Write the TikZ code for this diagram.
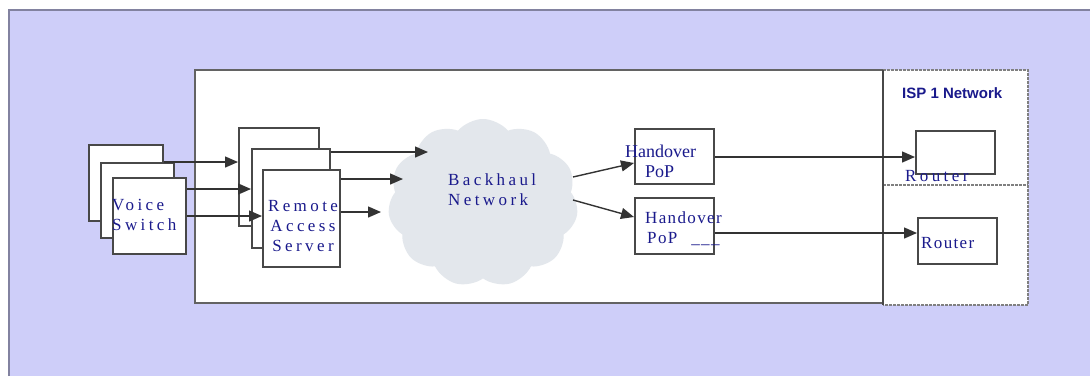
\documentclass[tikz,border=0pt]{standalone}
\usepackage{fontspec}
\setmainfont{Liberation Serif}
\newfontfamily\widefont[LetterSpace=20]{Liberation Serif}
\newfontfamily\halffont[LetterSpace=8]{Liberation Serif}
\newfontfamily\ispfont{Liberation Sans}
\usetikzlibrary{arrows.meta}
\usetikzlibrary{shapes.symbols}

\definecolor{lavender}{RGB}{206,206,249}
\definecolor{edgeblue}{RGB}{130,130,160}
\definecolor{labelblue}{RGB}{26,26,140}
\definecolor{cloudgray}{RGB}{227,231,236}
\definecolor{boxline}{RGB}{72,72,72}

\tikzset{
  unit/.style={draw=boxline,line width=1.6pt,fill=white,inner sep=0pt,anchor=north west},
  lbl/.style={text=labelblue,inner sep=0pt,align=left,anchor=base west},
  wide/.style={lbl,font=\fontsize{17}{20}\widefont},
  half/.style={lbl,font=\fontsize{17}{20}\halffont},
  tight/.style={lbl,font=\fontsize{18}{20}\selectfont},
  link/.style={->,draw=black!80,line width=1.4pt}
}

\begin{document}
\begin{tikzpicture}[x=1pt,y=-1pt,>={Triangle[length=13pt,width=11pt]}]
    \useasboundingbox (0,0) rectangle (1090,376);
    \fill[lavender] (9,10) rectangle (1090,376);
    \draw[edgeblue,line width=2.5pt] (9,376) -- (9,10) -- (1090,10);

    \draw[boxline!85,line width=1.6pt,fill=white] (195,70) rectangle (883,303);
    \fill[white] (883,70) rectangle (1028,305);
    \draw[gray,line width=1.2pt,dash pattern=on 3pt off 1pt] (883,70) -- (1028,70) -- (1028,305) -- (883,305);
    \draw[gray,line width=1.2pt,dash pattern=on 3pt off 1pt] (883,185) -- (1028,185);
    \draw[boxline,line width=1.6pt] (883,70) -- (883,305);
    \node[anchor=base west,inner sep=0pt,text=labelblue,font=\fontsize{15}{18}\ispfont\bfseries] (isptext) at (902,98) {ISP 1 Network};

    \node[cloud,cloud puffs=11,cloud puff arc=100,aspect=1,fill=cloudgray,minimum width=190pt,minimum height=168pt] (backhaul) at (483,203) {};

    \node[unit,minimum width=74pt,minimum height=76pt] (vs1) at (88,144) {};
    \node[unit,minimum width=73pt,minimum height=75pt] (vs2) at (100,162) {};
    \node[unit,minimum width=73pt,minimum height=76pt] (vs3) at (112,177) {};
    \node[unit,minimum width=80pt,minimum height=98pt] (ras1) at (238,127) {};
    \node[unit,minimum width=78pt,minimum height=99pt] (ras2) at (251,148) {};
    \node[unit,minimum width=77pt,minimum height=97pt] (ras3) at (262,169) {};
    \node[unit,minimum width=79pt,minimum height=55pt] (hp1) at (634,128) {};
    \node[unit,minimum width=79pt,minimum height=56pt] (hp2) at (634,197) {};
    \node[unit,minimum width=79pt,minimum height=43pt] (rt1) at (915,130) {};
    \node[unit,minimum width=79pt,minimum height=46pt] (rt2) at (917,217) {};

    \node[wide] (vstext) at (112,230) {Voice\\Switch};
    \node[wide,align=center,anchor=base] (rastext) at (303,251) {Remote\\Access\\Server};
    \node[wide] (bhtext) at (448,205) {Backhaul\\Network};
    \node[tight] (hp1text) at (625,177) {Handover\\\hspace*{20pt}PoP};
    \node[half] (hp2text) at (645,243) {Handover\\\hspace*{2pt}PoP\hspace{14pt}\_\_\_};
    \node[wide] (rt1text) at (905,181) {Router};
    \node[half] (rt2text) at (921,248) {Router};

    \coordinate (in1) at (428,152);
    \coordinate (in2) at (403,179);
    \coordinate (in3) at (381,212);
    \coordinate (out1) at (573,177);
    \coordinate (out2) at (573,200);

    \draw[link] (vs1.east |- 0,162) -- (ras1.west |- 0,162);
    \draw[link] (vs3.east |- 0,189) -- (ras2.west |- 0,189);
    \draw[link] (vs3.east |- 0,216) -- (ras3.west |- 0,216);
    \draw[link] (ras2.east |- 0,152) -- (in1);
    \draw[link] (ras3.east |- 0,179) -- (in2);
    \draw[link] (ras3.east |- 0,212) -- (in3);
    \draw[link] (out1) -- (hp1.west |- 0,163);
    \draw[link] (out2) -- (hp2.west |- 0,217);
    \draw[link] (hp1.east |- 0,157) -- (rt1.west |- 0,157);
    \draw[link] (hp2.east |- 0,233) -- (rt2.west |- 0,233);
\end{tikzpicture}
\end{document}
